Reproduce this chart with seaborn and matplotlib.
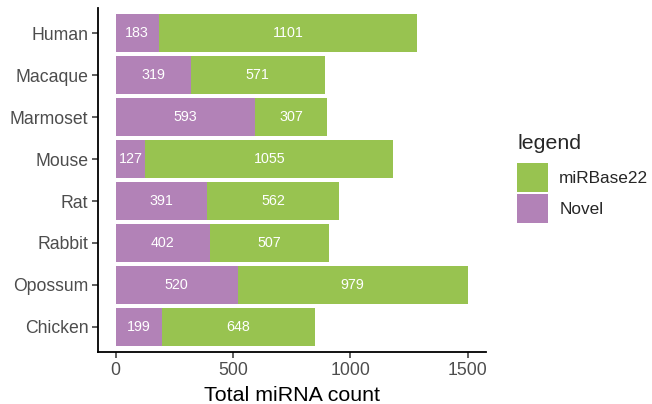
import pandas as pd
import numpy as np
import matplotlib
matplotlib.use("Agg")
import matplotlib.pyplot as plt
import seaborn as sns
from matplotlib.patches import Patch

species = ["Human", "Macaque", "Marmoset", "Mouse", "Rat", "Rabbit", "Opossum", "Chicken"]
novel = [183, 319, 593, 127, 391, 402, 520, 199]
mirbase = [1101, 571, 307, 1055, 562, 507, 979, 648]
x_ticks = [0, 500, 1000, 1500]

GREEN = "#98C350"
PURPLE = "#B282B7"

sns.set_theme(style="white")
plt.rcParams["font.family"] = ["Liberation Sans", "DejaVu Sans"]

df = pd.DataFrame({"species": species, "Novel": novel, "miRBase22": mirbase})
df["total"] = df["Novel"] + df["miRBase22"]

fig = plt.figure(figsize=(6.52, 4.04), dpi=100)
ax = fig.add_axes([0.1503, 0.1287, 0.5951, 0.8513])

# stacked: total (green) underneath, novel (purple) on top
sns.barplot(data=df, y="species", x="total", color=GREEN, orient="h",
            width=0.9, saturation=1, linewidth=0, ax=ax)
sns.barplot(data=df, y="species", x="Novel", color=PURPLE, orient="h",
            width=0.9, saturation=1, linewidth=0, ax=ax)

for i, row in df.iterrows():
    ax.text(row["Novel"] / 2, i, str(row["Novel"]), ha="center", va="center",
            color="white", fontsize=10.3)
    ax.text(row["Novel"] + row["miRBase22"] / 2, i, str(row["miRBase22"]),
            ha="center", va="center", color="white", fontsize=10.3)

ax.set_xlim(-75, 1577)
ax.set_ylim(7.6, -0.6)
ax.set_xticks(x_ticks)
ax.set_xticklabels([str(t) for t in x_ticks])
ax.set_ylabel("")
ax.set_xlabel("Total miRNA count", fontsize=15.4, color="black", labelpad=5)

for side in ["top", "right"]:
    ax.spines[side].set_visible(False)
for side in ["left", "bottom"]:
    ax.spines[side].set_color("black")
    ax.spines[side].set_linewidth(1.3)
ax.tick_params(axis="both", length=4, width=1.1, color="#333333",
               labelsize=12.7, labelcolor="#4D4D4D", pad=3, bottom=True, left=True)

handles = [Patch(facecolor=GREEN, edgecolor="none", label="miRBase22"),
           Patch(facecolor=PURPLE, edgecolor="none", label="Novel")]
leg = fig.legend(handles=handles, title="legend", loc="upper left",
                 bbox_to_anchor=(0.793, 0.668), frameon=False,
                 fontsize=12.4, title_fontsize=15.4,
                 handlelength=1.8, handleheight=2.2, labelspacing=0.15,
                 handletextpad=0.65, borderaxespad=0, borderpad=0)
leg._legend_box.align = "left"
leg._legend_box.sep = 7

fig.savefig("out.png", dpi=100)
